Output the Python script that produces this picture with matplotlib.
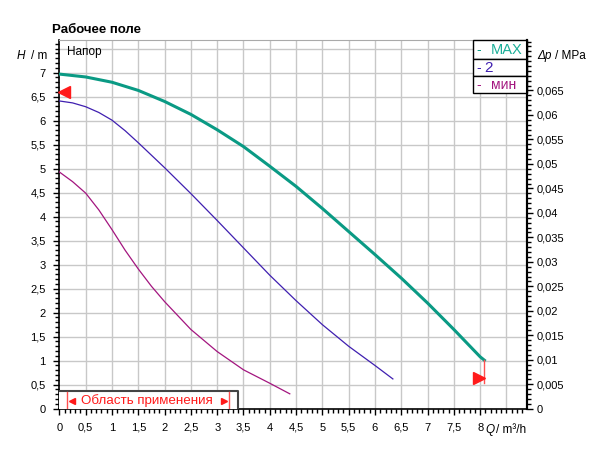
import numpy as np
import matplotlib
matplotlib.use('Agg')
import matplotlib.pyplot as plt
from matplotlib.ticker import MultipleLocator, FuncFormatter

plt.rcParams['font.family'] = ['Liberation Sans', 'DejaVu Sans']

# pump curves, Q in m3/h, H in m
Q_MAX = [0, 0.5, 1.0, 1.5, 2.0, 2.5, 3.0, 3.5, 4.0, 4.5, 5.0, 5.5, 6.0, 6.5, 7.0, 7.5, 8.0, 8.08]
H_MAX = [6.97, 6.91, 6.80, 6.63, 6.40, 6.13, 5.81, 5.46, 5.05, 4.63, 4.17, 3.69, 3.21, 2.72, 2.20, 1.65, 1.08, 1.01]

Q_2 = [0, 0.25, 0.5, 0.75, 1.0, 1.25, 1.5, 2.0, 2.5, 3.0, 3.5, 4.0, 4.5, 5.0, 5.5, 6.0, 6.34]
H_2 = [6.41, 6.37, 6.29, 6.17, 6.01, 5.79, 5.54, 5.02, 4.48, 3.92, 3.35, 2.78, 2.25, 1.75, 1.30, 0.90, 0.62]

Q_MIN = [0, 0.25, 0.5, 0.75, 1.0, 1.25, 1.5, 1.75, 2.0, 2.5, 3.0, 3.5, 4.0, 4.38]
H_MIN = [4.93, 4.73, 4.49, 4.14, 3.73, 3.30, 2.91, 2.55, 2.23, 1.65, 1.19, 0.81, 0.53, 0.31]

SERIES_LABELS = ['MAX', '2', 'мин']
TEAL = '#0a9a84'
BLUE = '#3f1fb0'
PURPLE = '#a3157f'
RED = '#ff1a1a'

# operating range / limit markers
RANGE_Q = [0.14, 3.22]
RANGE_BOX = [3.40, 0.37]
LEFT_MARK = [0.09, 6.6]
RIGHT_MARK = [7.98, 0.63]
RIGHT_LINE_Q = 8.08
RIGHT_LINE_H = [1.01, 0.54]

XMAX = 8.89
YMAX = 7.68
MPA_PER_M = 0.00980665


def comma(v, pos=None):
    s = '{:g}'.format(round(v, 4))
    return s.replace('.', ',')


fig = plt.figure(figsize=(5.98, 4.5), dpi=100)
ax = fig.add_axes([59.4 / 598, 1 - 408.7 / 450, (527 - 59.4) / 598, (408.7 - 40) / 450])

ax.set_xlim(0, XMAX)
ax.set_ylim(0, YMAX)

ax.set_xticks(np.arange(0, 8.01, 0.5))
ax.set_yticks(np.arange(0, 7.01, 0.5))
ax.xaxis.set_major_formatter(FuncFormatter(comma))
ax.yaxis.set_major_formatter(FuncFormatter(comma))
ax.xaxis.set_minor_locator(MultipleLocator(0.1))
ax.yaxis.set_minor_locator(MultipleLocator(0.1))
ax.tick_params(which='major', direction='out', length=4, width=1, labelsize=8, pad=6)
ax.tick_params(which='minor', direction='out', length=3, width=1)

# grid
for gx in np.arange(0.5, XMAX, 0.5):
    ax.axvline(gx, color='#c8c8c8', lw=1, zorder=0)
for gy in np.arange(0.5, YMAX, 0.5):
    ax.axhline(gy, color='#c8c8c8', lw=1, zorder=0)

ax.spines['top'].set_color('#aaaaaa')
ax.spines['right'].set_linewidth(1.5)
ax.spines['left'].set_linewidth(1.2)
ax.spines['bottom'].set_linewidth(1.2)

ax.plot(Q_MAX, H_MAX, color=TEAL, lw=2.2, zorder=3, solid_joinstyle='round')
ax.plot(Q_2, H_2, color=BLUE, lw=0.9, zorder=3)
ax.plot(Q_MIN, H_MIN, color=PURPLE, lw=0.9, zorder=3)

# limit markers
ax.plot([LEFT_MARK[0]], [LEFT_MARK[1]], marker='<', ms=8, color=RED, mec=RED, zorder=5, clip_on=False)
ax.plot([RIGHT_LINE_Q, RIGHT_LINE_Q], RIGHT_LINE_H, color='#ff5050', lw=1, zorder=4)
ax.plot([RIGHT_MARK[0]], [RIGHT_MARK[1]], marker='>', ms=8, color=RED, mec=RED, zorder=5)

# operating range box
ax.plot([0, RANGE_BOX[0], RANGE_BOX[0]], [RANGE_BOX[1], RANGE_BOX[1], 0],
        color='#444444', lw=1.5, zorder=4)
ax.add_patch(plt.Rectangle((0, 0), RANGE_BOX[0], RANGE_BOX[1], facecolor='white',
                           edgecolor='none', zorder=3))
for rq in RANGE_Q:
    ax.plot([rq, rq], [0.02, RANGE_BOX[1] - 0.02], color='#ff5050', lw=1, zorder=4)
ax.plot([RANGE_Q[0] + 0.1], [0.17], marker='<', ms=4, color=RED, zorder=4)
ax.plot([RANGE_Q[1] - 0.1], [0.17], marker='>', ms=4, color=RED, zorder=4)
ax.text(1.67, 0.16, 'Область применения', color=RED,
        fontsize=9.6, ha='center', va='center', zorder=5)

# legend boxes top right
rows = [YMAX, 7.28, 6.92, 6.57]
leg_x0 = 7.86
colors = [TEAL, BLUE, PURPLE]
for i, lab in enumerate(SERIES_LABELS):
    ax.add_patch(plt.Rectangle((leg_x0, rows[i + 1]), XMAX - leg_x0, rows[i] - rows[i + 1],
                               facecolor='white', edgecolor='black', lw=1, zorder=6,
                               clip_on=False))
    ymid = (rows[i] + rows[i + 1]) / 2
    ax.text(leg_x0 + 0.07, ymid, '-', color=colors[i], fontsize=10, va='center', zorder=7)
    if lab == '2':
        ax.text(leg_x0 + 0.22, ymid, lab, color=colors[i], fontsize=11, va='center', zorder=7)
    elif lab == 'MAX':
        ax.text(XMAX - 0.08, ymid, lab, color='#1aae98', fontsize=10.5, va='center',
                ha='right', zorder=7)
    else:
        ax.text(XMAX - 0.2, ymid, lab, color=colors[i], fontsize=10, va='center',
                ha='right', zorder=7)

ax.text(0.14, 7.42, 'Напор', fontsize=8.5, va='center', zorder=6)

# right axis in MPa
ax2 = ax.twinx()
ax2.set_ylim(0, YMAX * MPA_PER_M)
ax2.set_yticks(np.arange(0, 0.0651, 0.005))
ax2.yaxis.set_major_formatter(FuncFormatter(comma))
ax2.yaxis.set_minor_locator(MultipleLocator(0.001))
ax2.tick_params(which='major', direction='out', length=4, width=1, labelsize=8, pad=3)
ax2.tick_params(which='minor', direction='out', length=3, width=1)
for s in ['top', 'left', 'bottom']:
    ax2.spines[s].set_visible(False)
ax2.spines['right'].set_linewidth(1.5)

# axis titles
fig.text(52 / 598, 1 - 30 / 450, 'Рабочее поле', fontsize=9.5, fontweight='bold', va='center')
fig.text(17 / 598, 1 - 56 / 450, 'H', fontsize=8.5, style='italic', va='center')
fig.text(31 / 598, 1 - 56 / 450, '/ m', fontsize=8.5, va='center')
fig.text(537 / 598, 1 - 56 / 450, 'Δp', fontsize=8.5, style='italic', va='center')
fig.text(555 / 598, 1 - 56 / 450, '/ MPa', fontsize=8.5, va='center')
fig.text(485 / 598, 1 - 430 / 450, 'Q', fontsize=8.5, style='italic', va='center')
fig.text(496 / 598, 1 - 430 / 450, '/ m³/h', fontsize=8.5, va='center')

fig.savefig('out.png', dpi=100)
